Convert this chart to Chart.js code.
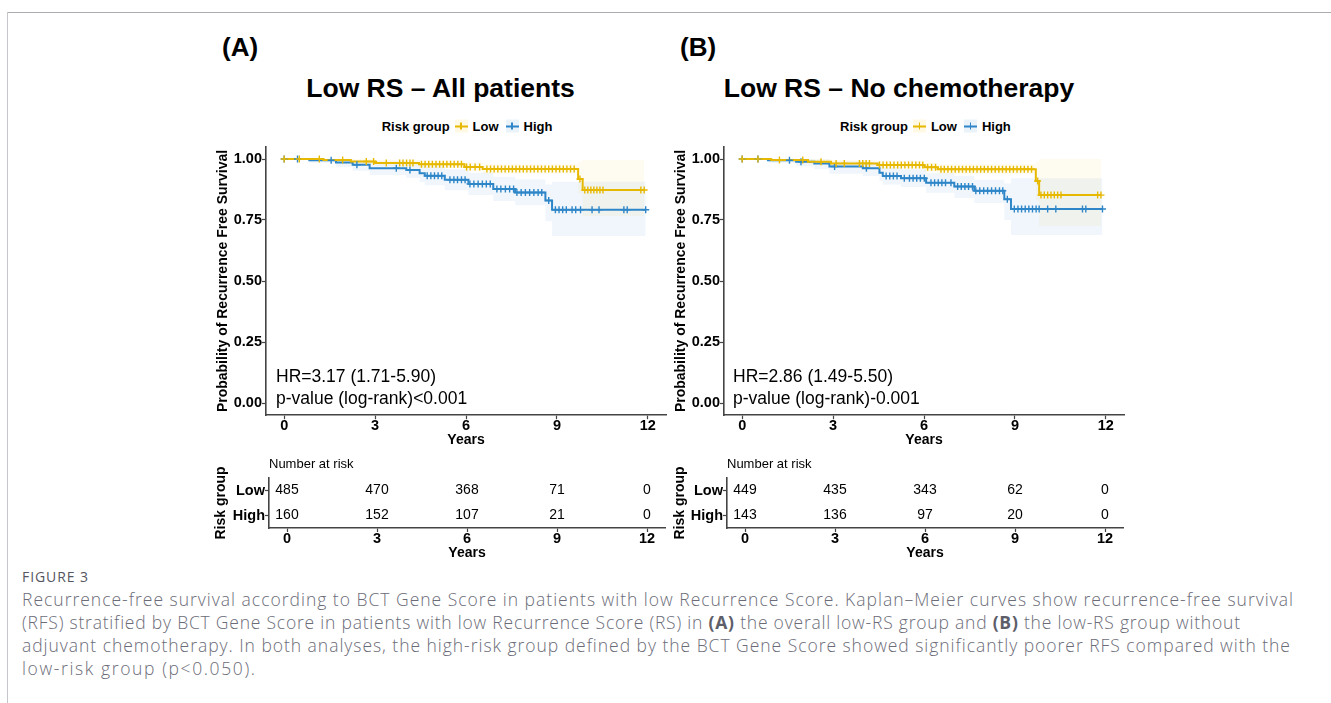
<!DOCTYPE html>
<html>
<head>
<meta charset="utf-8">
<script src="https://cdn.jsdelivr.net/npm/chart.js@4.4.1/dist/chart.umd.min.js"></script>
<style>
  body { margin: 0; background: #fff; }
  #page { position: relative; width: 1331px; height: 703px; overflow: hidden; background: #fff;
          font-family: 'Liberation Sans', Arial, sans-serif; color: #000; }
  #page canvas { position: absolute; }
  .frame-top { position: absolute; left: 7px; top: 12px; right: 0; border-top: 1.5px solid #acacb0; }
  .frame-left { position: absolute; left: 7px; top: 12px; bottom: 0; border-left: 1.5px solid #c6c6ca; }
  .t { position: absolute; white-space: nowrap; line-height: 1; transform: translateY(-50%); }
  .c { transform: translate(-50%, -50%); }
  .panel { font-size: 26px; font-weight: bold; }
  .title { font-size: 26.5px; font-weight: bold; }
  .legend { font-size: 13px; font-weight: bold; display: flex; align-items: center; }
  .key { position: relative; display: inline-block; width: 13px; height: 13px; margin: 0 5px; background: var(--b); }
  .key::before { content: ''; position: absolute; left: 0; right: 0; top: 5.5px; height: 2px; background: var(--c); }
  .key::after { content: ''; position: absolute; left: 5.75px; width: 1.5px; top: 3px; height: 7px; background: var(--c); }
  .stat { font-size: 17.5px; }
  .nar { font-size: 13px; }
  .caption { position: absolute; left: 22px; font-family: 'Open Sans', sans-serif; color: #6b6c78; white-space: nowrap;
             font-size: 17.5px; font-weight: 300; line-height: 1; transform: translateY(-50%); }
  .caption b { font-weight: bold; color: #5d5e6a; }
  .fig { font-size: 14px; color: #55565f; font-weight: 400; }
</style>
</head>
<body>
<div id="page">
  <div class="frame-top"></div>
  <div class="frame-left"></div>

  <div class="t panel" style="left:222px; top:47px">(A)</div>
  <div class="t panel" style="left:680px; top:47px">(B)</div>
  <div class="t c title" style="left:440.5px; top:88px">Low RS – All patients</div>
  <div class="t c title" style="left:899px; top:88px">Low RS – No chemotherapy</div>

  <div class="t legend" style="left:381.7px; top:126px">
    <span>Risk group</span><span class="key" style="--c:#E7B800; --b:#fff9e3"></span><span>Low</span>
    <span class="key" style="--c:#2E86C8; --b:#eaf3fa; margin-left:7px"></span><span>High</span>
  </div>
  <div class="t legend" style="left:840px; top:126px">
    <span>Risk group</span><span class="key" style="--c:#E7B800; --b:#fff9e3"></span><span>Low</span>
    <span class="key" style="--c:#2E86C8; --b:#eaf3fa; margin-left:7px"></span><span>High</span>
  </div>

  <canvas id="kmA" width="480" height="330" style="left:200px; top:130px"></canvas>
  <canvas id="kmB" width="480" height="330" style="left:658px; top:130px"></canvas>
  <canvas id="riskA" width="480" height="115" style="left:200px; top:455px"></canvas>
  <canvas id="riskB" width="480" height="115" style="left:659px; top:455px"></canvas>

  <div class="t stat" style="left:276px; top:377px">HR=3.17 (1.71-5.90)</div>
  <div class="t stat" style="left:276px; top:399px">p-value (log-rank)&lt;0.001</div>
  <div class="t stat" style="left:733px; top:377px">HR=2.86 (1.49-5.50)</div>
  <div class="t stat" style="left:733px; top:399px">p-value (log-rank)-0.001</div>

  <div class="t nar" style="left:269px; top:462.5px">Number at risk</div>
  <div class="t nar" style="left:727px; top:462.5px">Number at risk</div>

  <div class="caption fig fit" data-w="66" style="top:577px">FIGURE 3</div>
  <div class="caption fit" data-w="1271" style="top:600px">Recurrence-free survival according to BCT Gene Score in patients with low Recurrence Score. Kaplan–Meier curves show recurrence-free survival</div>
  <div class="caption fit" data-w="1218" style="top:623px">(RFS) stratified by BCT Gene Score in patients with low Recurrence Score (RS) in <b>(A)</b> the overall low-RS group and <b>(B)</b> the low-RS group without</div>
  <div class="caption fit" data-w="1268" style="top:646px">adjuvant chemotherapy. In both analyses, the high-risk group defined by the BCT Gene Score showed significantly poorer RFS compared with the</div>
  <div class="caption fit" data-w="233" style="top:669px">low-risk group (p&lt;0.050).</div>
</div>

<script>
// Sumbu
const xTicks = [0, 3, 6, 9, 12];
const yTicks = [0, 0.25, 0.5, 0.75, 1];
const groups = ['Low', 'High'];
const riskTimes = [0, 3, 6, 9, 12];

// (A) semua pasien - kurva Low
const aLowTime  = [0, 1.3, 2.2, 3.0, 4.45, 5.95, 6.55, 9.7, 9.85, 11.88];
const aLowSurv  = [1, 0.996, 0.99, 0.984, 0.978, 0.967, 0.959, 0.918, 0.873, 0.873];
const aLowUpper = [1, 1, 1, 0.997, 0.994, 0.987, 0.981, 0.99, 0.996, 0.996];
const aLowLower = [1, 0.988, 0.979, 0.971, 0.963, 0.95, 0.94, 0.86, 0.766, 0.766];
const aLowCensor = [
  [1.0,   [0, 0.5, 1.16]],
  [0.996, [1.93]],
  [0.99,  [2.71, 2.95]],
  [0.984, [3.37, 3.81, 3.92, 4.04, 4.15, 4.25]],
  [0.978, [4.53, 4.65, 4.77, 4.89, 5.01, 5.13, 5.25, 5.37, 5.49, 5.61, 5.73, 5.85]],
  [0.967, [6.02, 6.14, 6.3, 6.45]],
  [0.959, [6.69, 6.81, 6.93, 7.05, 7.17, 7.29, 7.41, 7.53, 7.65, 7.77, 7.89, 8.01, 8.13,
           8.25, 8.37, 8.49, 8.61, 8.73, 8.85, 8.97, 9.09, 9.21, 9.33, 9.45, 9.57]],
  [0.918, [9.76]],
  [0.873, [9.92, 10.02, 10.12, 10.22, 10.32, 10.42, 10.52, 11.77, 11.88]]
];

// (A) semua pasien - kurva High
const aHighTime  = [0, 0.83, 1.71, 2.26, 2.82, 4.03, 4.47, 4.64, 5.3, 6.08, 6.9, 7.62, 8.62, 8.84, 11.93];
const aHighSurv  = [1, 0.995, 0.986, 0.976, 0.962, 0.955, 0.942, 0.931, 0.915, 0.898, 0.877, 0.863, 0.83, 0.792, 0.792];
const aHighUpper = [1, 1, 1, 0.996, 0.99, 0.986, 0.978, 0.97, 0.958, 0.944, 0.927, 0.916, 0.895, 0.907, 0.907];
const aHighLower = [1, 0.985, 0.968, 0.952, 0.934, 0.923, 0.906, 0.892, 0.872, 0.852, 0.828, 0.81, 0.745, 0.684, 0.684];
const aHighCensor = [
  [1.0,   [0, 0.44]],
  [0.995, [1.55]],
  [0.976, [2.4]],
  [0.962, [3.7]],
  [0.955, [4.15]],
  [0.931, [4.72, 4.84, 4.96, 5.08, 5.2]],
  [0.915, [5.47, 5.6, 5.72, 5.85, 5.97]],
  [0.898, [6.13, 6.26, 6.4, 6.54, 6.67, 6.8]],
  [0.877, [7.02, 7.15, 7.3, 7.44, 7.57]],
  [0.863, [7.68, 7.82, 7.96, 8.1, 8.24, 8.38, 8.5]],
  [0.83,  [8.73]],
  [0.792, [8.95, 9.07, 9.19, 9.31, 9.5, 9.62, 9.78, 10.16, 10.39, 11.21, 11.32, 11.93]]
];

// (B) tanpa kemoterapi - kurva Low
const bLowTime  = [0, 0.96, 2.17, 2.93, 4.47, 6.01, 6.45, 9.69, 9.8, 11.84];
const bLowSurv  = [1, 0.996, 0.989, 0.982, 0.975, 0.966, 0.958, 0.91, 0.852, 0.852];
const bLowUpper = [1, 1, 1, 0.996, 0.992, 0.986, 0.98, 0.99, 1.0, 1.0];
const bLowLower = [1, 0.988, 0.978, 0.969, 0.96, 0.948, 0.937, 0.83, 0.725, 0.725];
const bLowCensor = [
  [1.0,   [0, 0.52]],
  [0.996, [1.23, 2.0]],
  [0.989, [2.6]],
  [0.982, [3.1, 3.37, 3.87, 3.98, 4.09, 4.2]],
  [0.975, [4.53, 4.65, 4.77, 4.89, 5.01, 5.13, 5.25, 5.37, 5.49, 5.61, 5.73, 5.85, 5.96]],
  [0.966, [6.12, 6.25, 6.38]],
  [0.958, [6.56, 6.67, 6.79, 6.91, 7.03, 7.15, 7.27, 7.39, 7.51, 7.63, 7.75, 7.87, 7.99,
           8.11, 8.23, 8.35, 8.47, 8.59, 8.71, 8.83, 8.95, 9.07, 9.19, 9.31, 9.43, 9.55]],
  [0.91,  [9.75]],
  [0.852, [9.86, 9.97, 10.08, 10.19, 10.3, 10.41, 10.52, 11.73, 11.84]]
];

// (B) tanpa kemoterapi - kurva High
const bHighTime  = [0, 0.85, 1.78, 2.38, 2.88, 3.98, 4.53, 4.64, 5.24, 6.07, 7.0, 7.66, 8.65, 8.87, 11.89];
const bHighSurv  = [1, 0.995, 0.989, 0.982, 0.969, 0.962, 0.944, 0.93, 0.921, 0.903, 0.887, 0.87, 0.835, 0.795, 0.795];
const bHighUpper = [1, 1, 1, 0.998, 0.99, 0.988, 0.975, 0.965, 0.958, 0.942, 0.93, 0.915, 0.9, 0.921, 0.921];
const bHighLower = [1, 0.985, 0.97, 0.958, 0.94, 0.93, 0.91, 0.895, 0.885, 0.862, 0.84, 0.82, 0.75, 0.689, 0.689];
const bHighCensor = [
  [1.0,   [0, 0.52]],
  [0.995, [1.56]],
  [0.989, [1.94]],
  [0.969, [3.05]],
  [0.962, [4.1]],
  [0.93,  [4.75, 4.87, 4.99, 5.11]],
  [0.921, [5.35, 5.52, 5.64, 5.76, 5.88, 6.01]],
  [0.903, [6.23, 6.35, 6.47, 6.59, 6.71, 6.89]],
  [0.887, [7.11, 7.23, 7.35, 7.47, 7.6]],
  [0.87,  [7.71, 7.84, 7.97, 8.1, 8.23, 8.36, 8.49, 8.6]],
  [0.835, [8.75]],
  [0.795, [8.98, 9.1, 9.22, 9.34, 9.46, 9.58, 9.7, 9.8, 10.08, 10.35, 11.23, 11.34, 11.89]]
];

// Number at risk
const aLowRisk  = [485, 470, 368, 71, 0];
const aHighRisk = [160, 152, 107, 21, 0];
const bLowRisk  = [449, 435, 343, 62, 0];
const bHighRisk = [143, 136, 97, 20, 0];

const lowColor = '#E7B800';
const highColor = '#2E86C8';
const lowBand = 'rgba(231,184,0,0.06)';
const highBand = 'rgba(46,134,200,0.07)';
const axisColor = '#444';

Chart.defaults.font.family = "'Liberation Sans', Arial, sans-serif";
Chart.defaults.color = '#000';

const pts = (xs, ys) => xs.map((x, i) => ({ x: x, y: ys[i] }));
const censorPts = list => list.flatMap(([s, ts]) => ts.map(t => ({ x: t, y: s })));

// band atas/bawah + garis KM + tanda sensor
function kmSets(time, surv, upper, lower, censor, color, band) {
  return [
    { data: pts(time, upper), borderWidth: 0, pointRadius: 0, stepped: true, fill: false, order: 3 },
    { data: pts(time, lower), borderWidth: 0, pointRadius: 0, stepped: true, fill: '-1', backgroundColor: band, order: 3 },
    { data: pts(time, surv), borderColor: color, borderWidth: 2, pointRadius: 0, stepped: true, fill: false, order: 2 },
    { data: censorPts(censor), showLine: false, pointStyle: 'cross', pointRadius: 3.5,
      borderColor: color, borderWidth: 1.4, order: 1 }
  ];
}

const xAxis = height => ({
  type: 'linear', min: -0.6, max: 12.6,
  afterBuildTicks: s => { s.ticks = xTicks.map(v => ({ value: v })); },
  afterFit: s => { s.height = height; },
  ticks: { font: { size: 14.5, weight: 'bold' }, color: '#000', padding: -2, callback: v => v },
  grid: { drawOnChartArea: false, tickLength: 4, tickColor: axisColor, tickWidth: 1.2 },
  border: { color: axisColor, width: 1.6 },
  title: { display: true, text: 'Years', padding: 0, font: { size: 14, weight: 'bold' }, color: '#000' }
});

function kmChart(id, sets, padLeft) {
  new Chart(document.getElementById(id).getContext('2d'), {
    type: 'line',
    data: { datasets: sets },
    options: {
      responsive: false, animation: false, events: [],
      layout: { padding: { left: padLeft, right: 14, top: 16.8, bottom: 11 } },
      plugins: { legend: { display: false }, tooltip: { enabled: false } },
      scales: {
        x: xAxis(33.8),
        y: {
          type: 'linear', min: -0.05, max: 1.05,
          afterBuildTicks: s => { s.ticks = yTicks.map(v => ({ value: v })); },
          afterFit: s => { s.width = 51; },
          ticks: { font: { size: 14.5, weight: 'bold' }, color: '#000', padding: 0, callback: v => v.toFixed(2) },
          grid: { drawOnChartArea: false, tickLength: 4, tickColor: axisColor, tickWidth: 1.2 },
          border: { color: axisColor, width: 1.6 },
          title: { display: true, text: 'Probability of Recurrence Free Survival', padding: 0,
                   font: { size: 14, weight: 'bold' }, color: '#000' }
        }
      }
    }
  });
}

// angka number-at-risk di posisi titik
const riskLabels = {
  id: 'riskLabels',
  afterDatasetsDraw(chart) {
    const ctx = chart.ctx;
    ctx.save();
    ctx.font = "14px 'Liberation Sans', Arial, sans-serif";
    ctx.fillStyle = '#000';
    ctx.textAlign = 'center';
    ctx.textBaseline = 'middle';
    chart.data.datasets.forEach((ds, i) => {
      chart.getDatasetMeta(i).data.forEach((pt, j) => ctx.fillText(ds.counts[j], pt.x, pt.y));
    });
    ctx.restore();
  }
};

function riskChart(id, lowCounts, highCounts, yWidth, padRight) {
  new Chart(document.getElementById(id).getContext('2d'), {
    type: 'line',
    data: {
      datasets: [
        { data: riskTimes.map(t => ({ x: t, y: groups[0] })), counts: lowCounts, showLine: false, pointRadius: 0 },
        { data: riskTimes.map(t => ({ x: t, y: groups[1] })), counts: highCounts, showLine: false, pointRadius: 0 }
      ]
    },
    options: {
      responsive: false, animation: false, events: [],
      layout: { padding: { left: 13, right: padRight, top: 23, bottom: 8 } },
      plugins: { legend: { display: false }, tooltip: { enabled: false } },
      scales: {
        x: xAxis(34),
        y: {
          type: 'category', labels: groups, offset: true,
          afterFit: s => { s.width = yWidth; },
          ticks: { font: { size: 14.5, weight: 'bold' }, color: '#000', padding: 0 },
          grid: { drawOnChartArea: false, tickLength: 4, tickColor: axisColor, tickWidth: 1.2, offset: false },
          border: { color: axisColor, width: 1.6 },
          title: { display: true, text: 'Risk group', padding: 0, font: { size: 14, weight: 'bold' }, color: '#000' }
        }
      }
    },
    plugins: [riskLabels]
  });
}

kmChart('kmA', [
  ...kmSets(aLowTime, aLowSurv, aLowUpper, aLowLower, aLowCensor, lowColor, lowBand),
  ...kmSets(aHighTime, aHighSurv, aHighUpper, aHighLower, aHighCensor, highColor, highBand)
], 15);
kmChart('kmB', [
  ...kmSets(bLowTime, bLowSurv, bLowUpper, bLowLower, bLowCensor, lowColor, lowBand),
  ...kmSets(bHighTime, bHighSurv, bHighUpper, bHighLower, bHighCensor, highColor, highBand)
], 15);
riskChart('riskA', aLowRisk, aHighRisk, 56, 15);
riskChart('riskB', bLowRisk, bHighRisk, 55, 16);

// rentangkan baris caption agar lebarnya sama dengan gambar
document.querySelectorAll('.caption.fit').forEach(el => {
  const target = +el.dataset.w;
  const w = el.getBoundingClientRect().width;
  const n = el.textContent.length - 1;
  el.style.letterSpacing = ((target - w) / n) + 'px';
});
</script>
</body>
</html>
